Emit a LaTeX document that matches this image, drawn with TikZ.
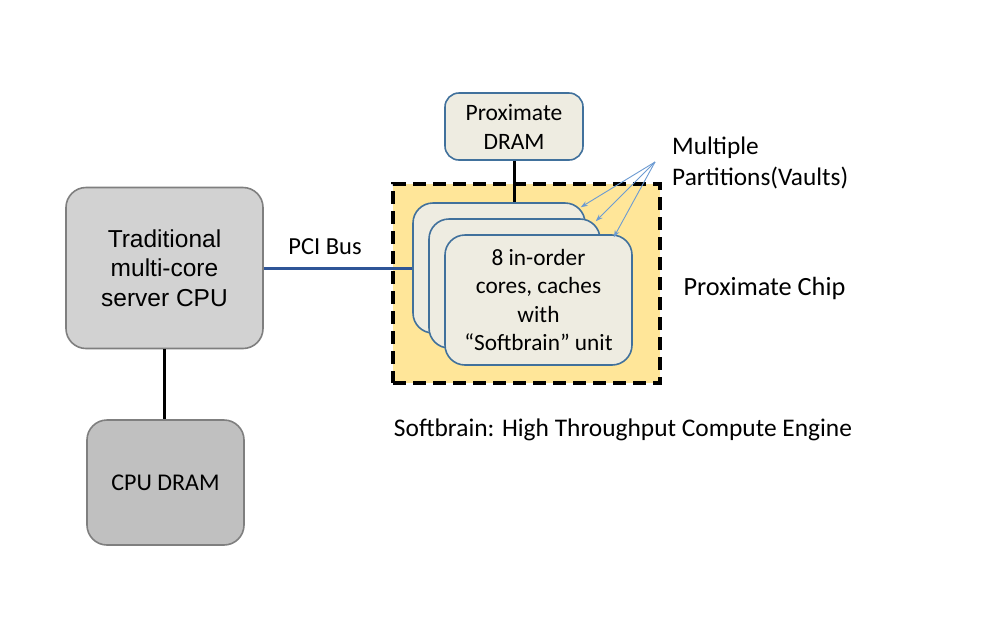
\documentclass[tikz,border=0pt]{standalone}
\usepackage{fontspec}
\setmainfont{Carlito}
\newfontfamily\arialf{Liberation Sans}
\usetikzlibrary{arrows.meta,calc}
\definecolor{cpufill}{HTML}{D2D2D2}
\definecolor{dramfill}{HTML}{C0C0C0}
\definecolor{grayline}{HTML}{7F7F7F}
\definecolor{chipfill}{HTML}{FFE699}
\definecolor{cardfill}{HTML}{EEECE1}
\definecolor{cardline}{HTML}{41719C}
\definecolor{pciline}{HTML}{2F5597}
\definecolor{arrowc}{HTML}{6C9BD2}
\tikzset{
  graybox/.style={draw=grayline, line width=1.6pt, rounded corners=20pt, inner sep=0pt, align=center, text=black},
  cardbox/.style={draw=cardline, fill=cardfill, line width=1.6pt, rounded corners=20pt, inner sep=0pt, align=center},
  blackline/.style={line width=3pt, black},
  ptr/.style={arrowc, line width=0.9pt, -{Stealth[length=7pt,width=5pt]}},
  lbl/.style={inner sep=0pt, align=center}
}
\begin{document}
\begin{tikzpicture}[x=1pt,y=-1pt]
\useasboundingbox (0,0) rectangle (996,638);
\fill[white] (0,0) rectangle (996,638);
% proximate chip
\node[draw=black, fill=chipfill, line width=3.5pt, dash pattern=on 13pt off 7pt, minimum width=267pt, minimum height=199pt, inner sep=0pt] (chip) at (526.5,283.5) {};
% CPU
\node[graybox, fill=cpufill, minimum width=197pt, minimum height=161pt, font=\arialf\fontsize{24.5}{29.5}\selectfont] (cpu) at (164.5,268) {Traditional\\multi-core\\server CPU};
\node[graybox, fill=dramfill, minimum width=157pt, minimum height=125pt, font=\fontsize{24}{28}\selectfont] (cpudram) at (165.5,482.5) {CPU DRAM};
% proximate DRAM
\node[cardbox, minimum width=138pt, minimum height=67pt, rounded corners=14pt, font=\fontsize{23.5}{29}\selectfont] (pdram) at (514,126.5) {Proximate\\DRAM};
% cards
\node[cardbox, minimum width=172pt, minimum height=130pt] (back) at (499,268) {};
\node[cardbox, minimum width=171pt, minimum height=129pt] (mid) at (514.5,283.5) {};
\node[cardbox, minimum width=187pt, minimum height=130pt, font=\fontsize{23.3}{28.3}\selectfont] (front) at (538.5,300) {8 in-order\\cores, caches\\with\\``Softbrain'' unit};
% connectors
\draw[blackline] (cpu.south) -- (cpu.south |- cpudram.north);
\draw[pciline, line width=3pt] (cpu.east) -- (cpu.east -| back.west);
\draw[blackline] (pdram.south) -- (pdram.south |- back.north);
\node[lbl, font=\fontsize{24.5}{29}\selectfont] (pci) at (325,247) {PCI Bus};
% labels
\node[lbl, anchor=west, align=left, font=\fontsize{25.3}{31}\selectfont] (mp) at (672,162.5) {Multiple\\Partitions(Vaults)};
\coordinate (src) at (655,162);
\coordinate (t1) at ($(back.north east)+(-5,5)$);
\coordinate (t2) at ($(mid.north east)+(-5,3)$);
\coordinate (t3) at ($(front.north east)+(-19,3)$);
\draw[ptr] (src) -- (t1);
\draw[ptr] (src) -- (t2);
\draw[ptr] (src) -- (t3);
\node[lbl, font=\fontsize{26.3}{30}\selectfont] (pc) at (764.5,288) {Proximate Chip};
\node[lbl, font=\fontsize{25.4}{30}\selectfont] (cap) at (623,430) {Softbrain: High Throughput Compute Engine};
\end{tikzpicture}
\end{document}
